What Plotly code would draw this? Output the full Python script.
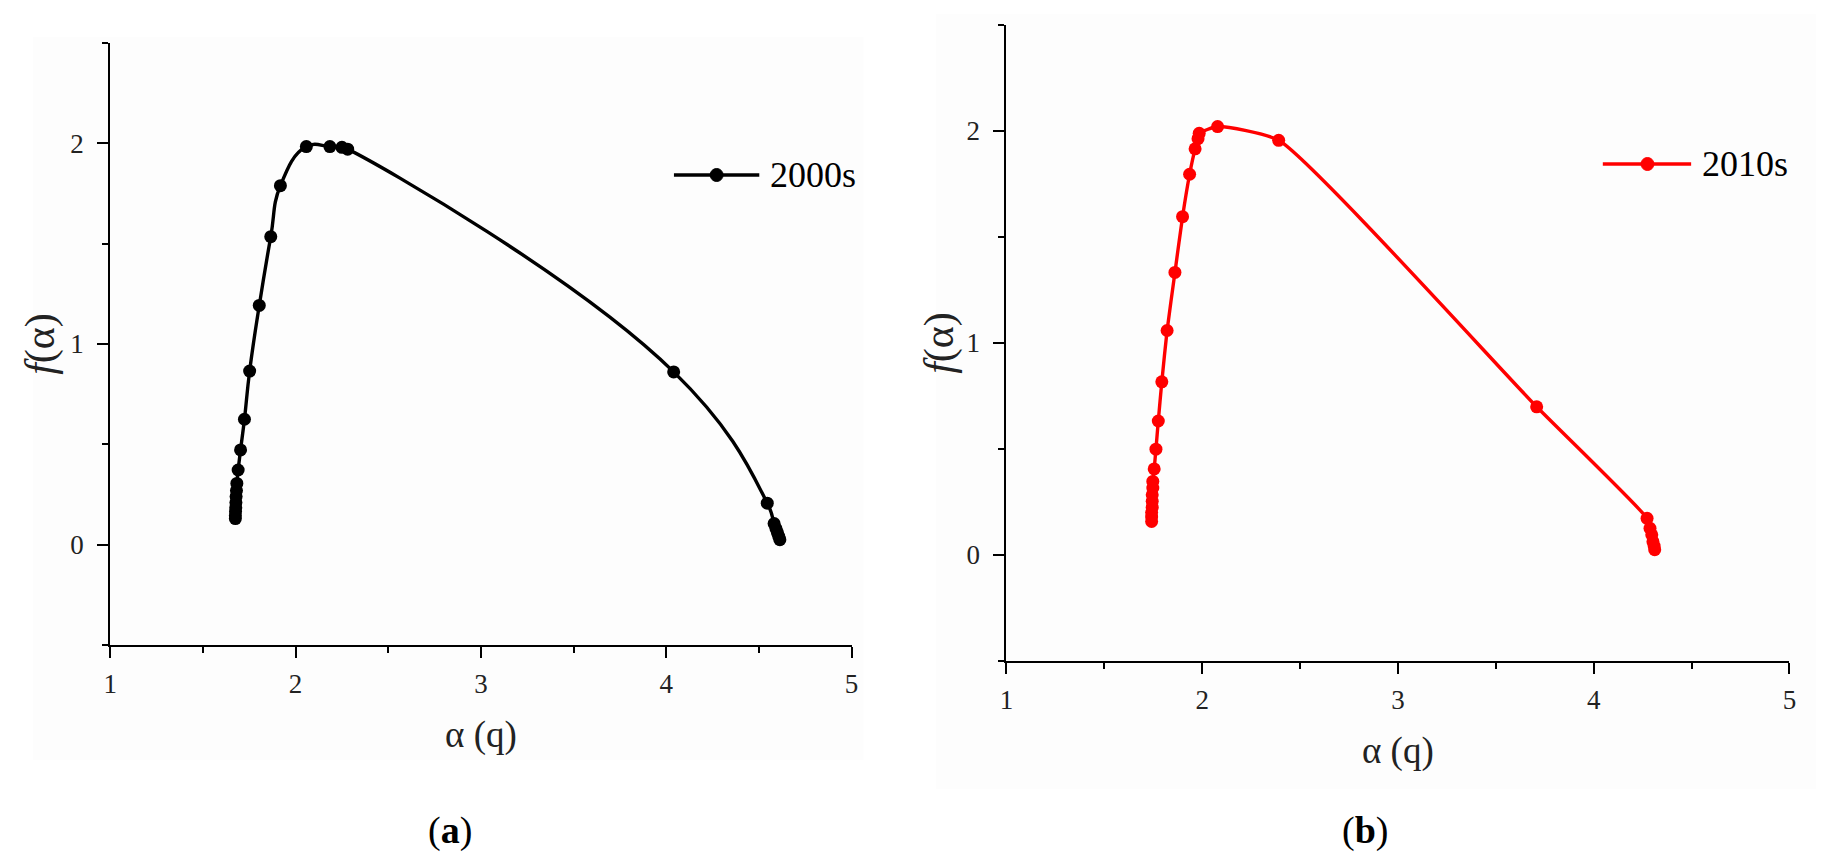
"""
Multifractal spectra f(alpha) vs alpha(q) for the 2000s and 2010s.
"""

import plotly.graph_objects as go

# Panel (a): 2000s, ordered from the left (q > 0) branch over the peak to the right branch.
alpha_2000s = [
    1.675, 1.675, 1.676, 1.677, 1.678, 1.679, 1.681, 1.683, 1.690, 1.703, 1.724,
    1.752, 1.804, 1.866, 1.918, 2.058, 2.185, 2.250, 2.281, 4.040, 4.545, 4.582,
    4.592, 4.600, 4.607, 4.613,
]
f_2000s = [
    0.130, 0.145, 0.165, 0.185, 0.210, 0.240, 0.270, 0.305, 0.372, 0.472, 0.625,
    0.865, 1.192, 1.535, 1.789, 1.984, 1.984, 1.980, 1.971, 0.861, 0.207, 0.105,
    0.080, 0.060, 0.042, 0.025,
]

# Panel (b): 2010s
alpha_2010s = [
    1.742, 1.742, 1.742, 1.745, 1.745, 1.745, 1.748, 1.748, 1.755, 1.764, 1.776,
    1.794, 1.821, 1.861, 1.900, 1.936, 1.964, 1.979, 1.985, 2.079, 2.391, 3.709,
    4.273, 4.288, 4.297, 4.303, 4.309, 4.312,
]
f_2010s = [
    0.158, 0.179, 0.200, 0.225, 0.253, 0.284, 0.316, 0.347, 0.406, 0.499, 0.632,
    0.817, 1.059, 1.333, 1.596, 1.796, 1.916, 1.964, 1.989, 2.021, 1.956, 0.699,
    0.173, 0.126, 0.095, 0.063, 0.042, 0.025,
]

x_ticks = [1, 2, 3, 4, 5]
y_ticks = [0, 1, 2]

W, H = 1838, 856
FONT = "Liberation Serif"


def px_x(v):
    return v / W


def px_y(v):
    return 1 - v / H


fig = go.Figure()

fig.add_trace(
    go.Scatter(
        x=alpha_2000s, y=f_2000s, name="2000s", mode="lines+markers",
        line=dict(color="black", width=3.4, shape="spline", smoothing=1.3),
        marker=dict(color="black", size=13),
        xaxis="x", yaxis="y",
    )
)
fig.add_trace(
    go.Scatter(
        x=alpha_2010s, y=f_2010s, name="2010s", mode="lines+markers",
        line=dict(color="#ff0000", width=3.4, shape="spline", smoothing=0.5),
        marker=dict(color="#ff0000", size=13),
        xaxis="x2", yaxis="y2",
    )
)

axis_common = dict(
    showline=True, linecolor="black", linewidth=2.2, mirror=False,
    ticks="outside", ticklen=11, tickwidth=2, tickcolor="black",
    showgrid=False, zeroline=False,
    tickfont=dict(family=FONT, size=27, color="#222"),
    minor=dict(dtick=0.5, ticks="outside", ticklen=6, tickwidth=2, tickcolor="black"),
)

x_title = dict(text="α (q)", font=dict(family=FONT, size=37, color="#222"), standoff=24)
y_title_font = dict(family=FONT, size=42, color="#222")

fig.update_layout(
    width=W, height=H,
    margin=dict(l=0, r=0, t=0, b=0),
    paper_bgcolor="white", plot_bgcolor="rgba(0,0,0,0)",
    showlegend=False,
    xaxis=dict(
        axis_common, domain=[px_x(96), px_x(843)], range=[1, 5],
        tickvals=x_ticks, anchor="y", title=x_title, ticklabelstandoff=2,
    ),
    yaxis=dict(
        axis_common, domain=[px_y(637), px_y(35)], range=[-0.5, 2.5],
        tickvals=y_ticks, anchor="x", ticklabelstandoff=8,
        title=dict(text="<i>f</i>(α)", font=y_title_font, standoff=3),
    ),
    xaxis2=dict(
        axis_common, domain=[px_x(999), px_x(1788)], range=[1, 5],
        tickvals=x_ticks, anchor="y2", title=x_title, ticklabelstandoff=2,
    ),
    yaxis2=dict(
        axis_common, domain=[px_y(653), px_y(17)], range=[-0.5, 2.5],
        tickvals=y_ticks, anchor="x2", ticklabelstandoff=8,
        title=dict(text="<i>f</i>(α)", font=y_title_font, standoff=0),
    ),
)

# Faint backgrounds of the two pasted panels
for x0, x1, y0, y1 in [(18, 855, 29, 752), (928, 1815, 6, 781)]:
    fig.add_shape(
        type="rect", xref="paper", yref="paper",
        x0=px_x(x0), x1=px_x(x1), y0=px_y(y1), y1=px_y(y0),
        fillcolor="#fdfdfd", line_width=0, layer="below",
    )

# Hand-drawn legends in the Origin style (long line sample with a marker in the middle)
for name, color, x0, x1, xm, ym, xt in [
    ("2000s", "black", 664, 750, 707, 167, 759),
    ("2010s", "#ff0000", 1600, 1689, 1645, 156, 1698),
]:
    fig.add_shape(
        type="line", xref="paper", yref="paper",
        x0=px_x(x0), x1=px_x(x1), y0=px_y(ym), y1=px_y(ym),
        line=dict(color=color, width=3.4),
    )
    fig.add_shape(
        type="circle", xref="paper", yref="paper",
        xsizemode="pixel", ysizemode="pixel",
        xanchor=px_x(xm), yanchor=px_y(ym), x0=-6.5, x1=6.5, y0=-6.5, y1=6.5,
        fillcolor=color, line=dict(color=color, width=1),
    )
    fig.add_annotation(
        text=name, xref="paper", yref="paper", x=px_x(xt), y=px_y(ym),
        xanchor="left", yanchor="middle", showarrow=False,
        font=dict(family=FONT, size=36, color="black"),
    )

# Panel labels
for label, xc in [("a", 438), ("b", 1360)]:
    fig.add_annotation(
        text=f"(<b>{label}</b>)", xref="paper", yref="paper",
        x=px_x(xc), y=px_y(822), xanchor="center", yanchor="middle",
        showarrow=False, font=dict(family=FONT, size=38, color="black"),
    )

fig.write_html("out.html")
